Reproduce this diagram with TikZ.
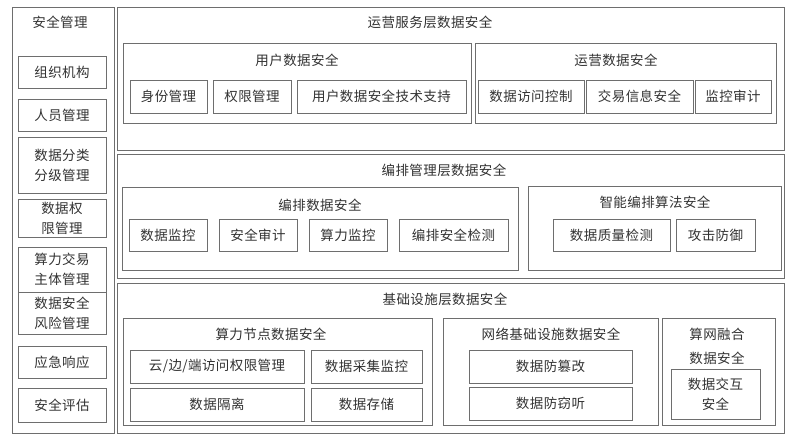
\documentclass[tikz,border=0pt]{standalone}
\usepackage{fontspec}
\newfontfamily\cjk[LetterSpace=3]{Noto Sans CJK SC}
\definecolor{lc}{RGB}{110,110,110}
\definecolor{tc}{RGB}{50,50,50}
\newcommand\bx[6]{\node[box, minimum width={(#4-#2)*1pt}, minimum height={(#5-#3)*1pt}] (#1) at ({(#2+#4)/2},{(#3+#5)/2}) {#6};}
\tikzset{
  box/.style={draw=lc, line width=1pt, inner sep=0pt, align=center, font=\cjk\fontsize{13.5}{20}\selectfont, text=tc},
  ttl/.style={inner sep=0pt, align=center, font=\cjk\fontsize{13.5}{24}\selectfont, text=tc}
}
\begin{document}
\begin{tikzpicture}[x=1pt,y=-1pt]
\useasboundingbox (0,0) rectangle (789,440);
% left panel
\bx{left}{12}{7}{114}{433}{}
\node[ttl] (lt) at (60,22) {安全管理};
\bx{l1}{18}{56}{106}{88}{组织机构}
\bx{l2}{18}{99}{106}{131}{人员管理}
\bx{l3}{18}{137}{106}{193}{数据分类\\分级管理}
\bx{l4}{18}{199}{106}{237}{数据权\\限管理}
\bx{l5}{18}{247}{106}{292}{算力交易\\主体管理}
\bx{l6}{18}{292}{106}{334}{数据安全\\风险管理}
\bx{l7}{18}{346}{106}{378}{应急响应}
\bx{l8}{18}{388}{106}{422}{安全评估}
% top layer
\bx{top}{117}{7}{784}{150}{}
\node[ttl] (tt) at (430,22) {运营服务层数据安全};
\bx{ug}{123}{43}{471}{123}{}
\node[ttl] (ugt) at (297,60) {用户数据安全};
\bx{u1}{130}{80}{207}{113}{身份管理}
\bx{u2}{213}{80}{291}{113}{权限管理}
\bx{u3}{297}{80}{466}{113}{用户数据安全技术支持}
\bx{og}{475}{43}{776}{123}{}
\node[ttl] (ogt) at (616,60) {运营数据安全};
\bx{o1}{478}{80}{584}{113}{数据访问控制}
\bx{o2}{586}{80}{693}{113}{交易信息安全}
\bx{o3}{695}{80}{771}{113}{监控审计}
% middle layer
\bx{mid}{117}{154}{784}{278}{}
\node[ttl] (mt) at (444,170) {编排管理层数据安全};
\bx{eg}{122}{187}{518}{270}{}
\node[ttl] (egt) at (320,205) {编排数据安全};
\bx{e1}{129}{219}{207}{251}{数据监控}
\bx{e2}{219}{219}{297}{251}{安全审计}
\bx{e3}{309}{219}{387}{251}{算力监控}
\bx{e4}{399}{219}{508}{251}{编排安全检测}
\bx{ag}{528}{186}{781}{270}{}
\node[ttl] (agt) at (655,202) {智能编排算法安全};
\bx{a1}{553}{219}{670}{251}{数据质量检测}
\bx{a2}{676}{219}{755}{251}{攻击防御}
% bottom layer
\bx{bot}{117}{283}{784}{433}{}
\node[ttl] (bt) at (445,299) {基础设施层数据安全};
\bx{cg}{123}{318}{432}{425}{}
\node[ttl] (cgt) at (271,334) {算力节点数据安全};
\bx{c1}{130}{350}{304}{383}{云/边/端访问权限管理}
\bx{c2}{311}{350}{422}{383}{数据采集监控}
\bx{c3}{130}{388}{304}{421}{数据隔离}
\bx{c4}{311}{388}{422}{421}{数据存储}
\bx{ng}{443}{318}{658}{425}{}
\node[ttl] (ngt) at (551,334) {网络基础设施数据安全};
\bx{n1}{469}{350}{632}{383}{数据防篡改}
\bx{n2}{469}{387}{632}{420}{数据防窃听}
\bx{sg}{662}{318}{775}{425}{}
\node[ttl] (sgt) at (717,346) {算网融合\\数据安全};
\bx{s1}{671}{369}{760}{419}{数据交互\\安全}
\end{tikzpicture}
\end{document}
